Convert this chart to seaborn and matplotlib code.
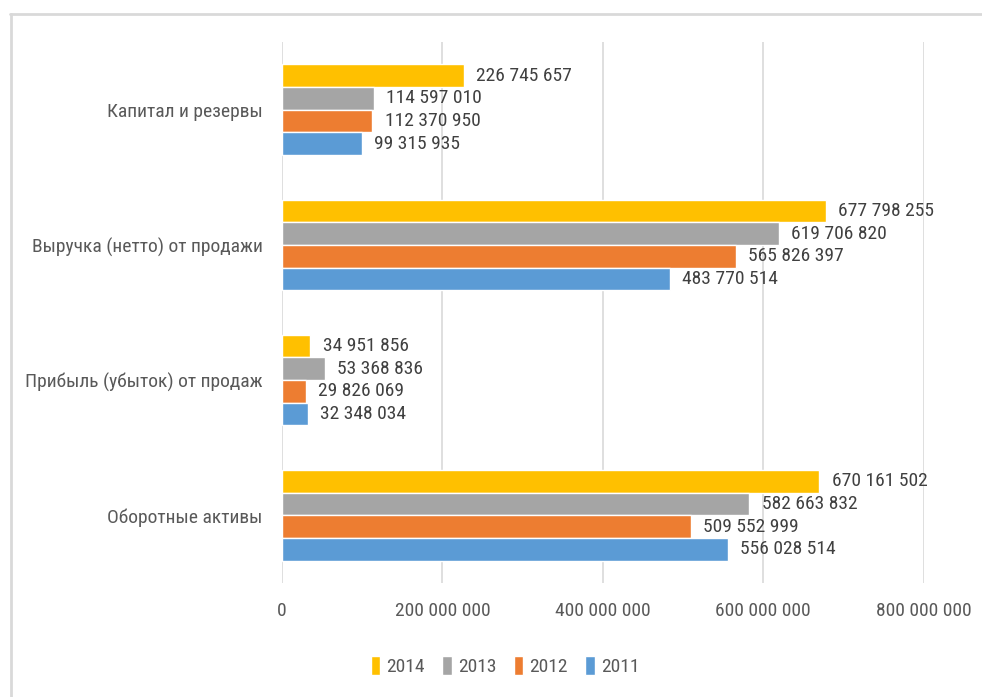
import matplotlib
matplotlib.use("Agg")
import matplotlib.pyplot as plt
from matplotlib.lines import Line2D
from matplotlib import font_manager
from matplotlib.font_manager import FontProperties
import seaborn as sns
import pandas as pd

categories = [
    "Капитал и резервы",
    "Выручка (нетто) от продажи",
    "Прибыль (убыток) от продаж",
    "Оборотные активы",
]
years = ["2014", "2013", "2012", "2011"]
values_2014 = [226745657, 677798255, 34951856, 670161502]
values_2013 = [114597010, 619706820, 53368836, 582663832]
values_2012 = [112370950, 565826397, 29826069, 509552999]
values_2011 = [99315935, 483770514, 32348034, 556028514]
x_ticks = [0, 200000000, 400000000, 600000000, 800000000]

colors = {"2014": "#FFC000", "2013": "#A5A5A5", "2012": "#ED7D31", "2011": "#5B9BD5"}

series = {"2014": values_2014, "2013": values_2013, "2012": values_2012, "2011": values_2011}
rows = []
for year in years:
    for cat, val in zip(categories, series[year]):
        rows.append({"Показатель": cat, "Год": year, "Значение": val})
df = pd.DataFrame(rows)

sns.set_theme(style="white")


def pick_narrow_font():
    """Return the path of a condensed regular sans face, if one is installed."""
    fonts = font_manager.fontManager.ttflist
    preferred = ["Liberation Sans Narrow", "Roboto Condensed", "Open Sans Condensed",
                 "Noto Sans Condensed", "DejaVu Sans Condensed", "Noto Sans SemiCondensed",
                 "Open Sans SemiCondensed"]
    for name in preferred:
        for f in fonts:
            if f.name == name and f.style == "normal" and f.weight in (400, "normal", "regular"):
                return f.fname
    for f in fonts:
        low = f.fname.lower()
        if (("condensed" in low or "narrow" in low) and "bold" not in low
                and "italic" not in low and "light" not in low and "semibold" not in low
                and "medium" not in low and "black" not in low and "thin" not in low
                and "extra" not in low and "mono" not in low and "serif" not in low.replace("sans", "")):
            return f.fname
    return None


narrow = pick_narrow_font()
plt.rcParams["font.family"] = ["Liberation Sans", "DejaVu Sans"]


def fp(size):
    if narrow:
        return FontProperties(fname=narrow, size=size)
    return FontProperties(family="Liberation Sans", size=size)


def fmt(v):
    return f"{v:,.0f}".replace(",", " ")


fig = plt.figure(figsize=(9.82, 6.97), dpi=100)
ax = fig.add_axes([0.2872, 0.1636, 0.6533, 0.7761])

sns.barplot(
    data=df, y="Показатель", x="Значение", hue="Год",
    order=categories, hue_order=years, palette=colors,
    orient="h", width=0.67, gap=0, saturation=1, ax=ax, legend=True,
)

for container in ax.containers:
    ax.bar_label(container, labels=[fmt(b.get_width()) for b in container],
                 padding=9, fontproperties=fp(14), color="#404040")

ax.set_xlim(0, 800000000)
ax.set_xticks(x_ticks)
ax.set_xticklabels([fmt(t) for t in x_ticks], fontproperties=fp(14), color="#595959")
for lbl in ax.get_yticklabels():
    lbl.set_fontproperties(fp(14))
    lbl.set_color("#595959")
ax.tick_params(axis="y", length=0, pad=14)
ax.tick_params(axis="x", length=0, pad=14)
ax.set_xlabel("")
ax.set_ylabel("")
ax.grid(axis="x", color="#D9D9D9", linewidth=1.2)
ax.set_axisbelow(True)
for s in ax.spines.values():
    s.set_visible(False)

handles, labels = ax.get_legend_handles_labels()
ax.legend_.remove()
fig.legend(handles, labels, loc="center", bbox_to_anchor=(505 / 982, 1 - 666 / 697),
           ncol=4, frameon=False, prop=fp(14), handlelength=0.5, handleheight=1.1,
           handletextpad=0.3, columnspacing=0.9, labelcolor="#595959")

border = "#D9D9D9"
fig.add_artist(Line2D([10.5 / 982, 10.5 / 982], [0, 1 - 14 / 697], color=border, linewidth=2,
                      transform=fig.transFigure))
fig.add_artist(Line2D([10 / 982, 1], [1 - 14 / 697, 1 - 14 / 697], color=border, linewidth=2,
                      transform=fig.transFigure))

fig.savefig("out.png", dpi=100)
